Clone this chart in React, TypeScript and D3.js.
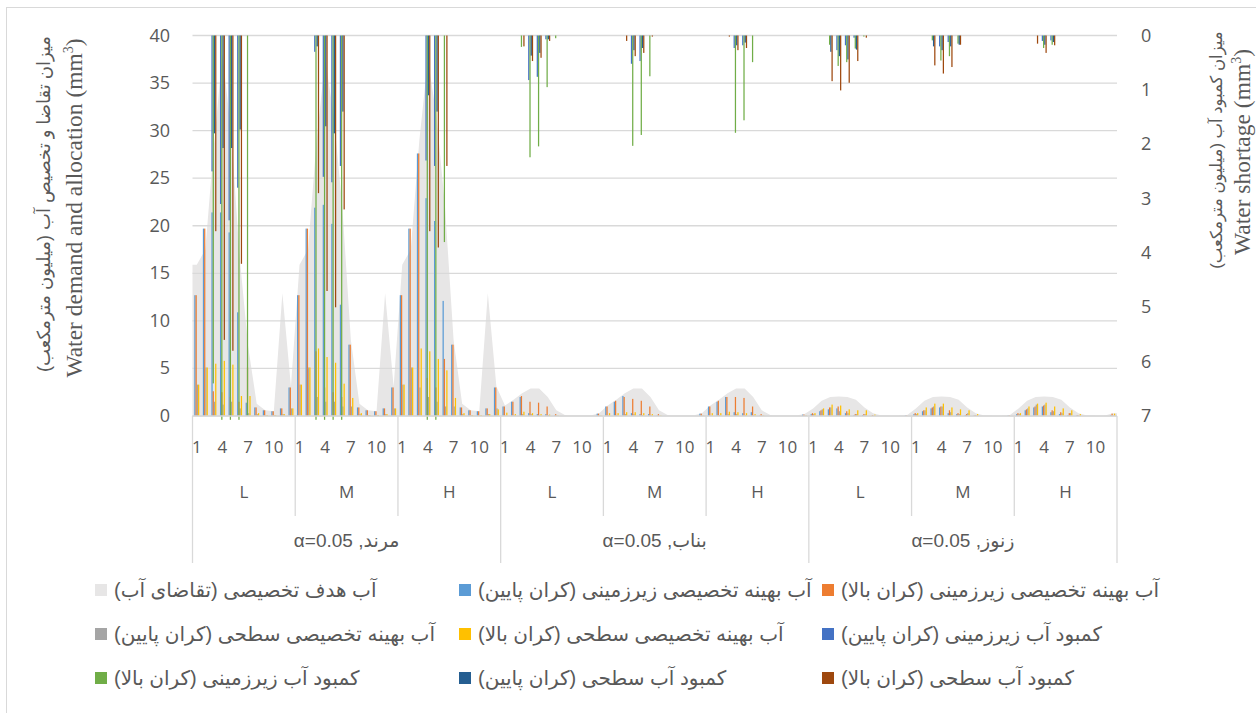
import React from 'react';
import * as d3 from 'd3';

const months = ['1', '2', '3', '4', '5', '6', '7', '8', '9', '10', '11', '12'];
const levels = ['L', 'M', 'H'];
const regions = ['مرند', 'بناب', 'زنوز'];
const alphaText = 'α=0.05';
const leftTicks = [0, 5, 10, 15, 20, 25, 30, 35, 40];
const rightTicks = [0, 1, 2, 3, 4, 5, 6, 7];

// demand (gray area), rows: Marand L/M/H, Bonab L/M/H, Zonouz L/M/H
const demand = [
  15.9, 17.5, 28.5, 38.0, 30.0, 16.8, 7.3, 1.3, 0.6, 0.5, 12.9, 3.1,
  15.9, 17.5, 29.0, 37.5, 31.5, 22.0, 8.0, 1.3, 0.6, 0.5, 12.9, 3.1,
  15.9, 17.5, 29.0, 37.5, 31.5, 22.0, 8.0, 1.3, 0.6, 0.5, 12.9, 3.1,
  1.1, 1.7, 2.4, 2.9, 2.9, 2.0, 0.6, 0.1, 0.05, 0.05, 0.05, 0.3,
  1.1, 1.7, 2.4, 2.9, 2.9, 2.0, 0.6, 0.1, 0.05, 0.05, 0.05, 0.3,
  1.1, 1.7, 2.4, 2.9, 2.9, 2.0, 0.6, 0.1, 0.05, 0.05, 0.05, 0.2,
  0.8, 1.6, 2.0, 2.05, 2.0, 1.7, 0.9, 0.3, 0.05, 0.02, 0.02, 0.1,
  0.8, 1.6, 2.0, 2.05, 2.0, 1.7, 0.9, 0.3, 0.05, 0.02, 0.02, 0.1,
  0.8, 1.6, 2.0, 2.05, 2.0, 1.7, 0.9, 0.3, 0.05, 0.02, 0.02, 0.3,
];

const gwAllocLow = [
  12.7, 19.7, 21.4, 21.4, 19.3, 10.9, 1.4, 0.9, 0.6, 0.5, 0.8, 3.0,
  12.7, 19.7, 21.9, 22.2, 20.2, 11.7, 7.5, 0.9, 0.6, 0.5, 0.8, 3.0,
  12.7, 19.7, 27.6, 22.9, 20.5, 12.1, 7.5, 0.9, 0.6, 0.5, 0.8, 3.0,
  1.0, 1.5, 2.0, 0.3, 0.2, 0.2, 0.05, 0, 0, 0, 0, 0.25,
  1.0, 1.5, 2.1, 0.3, 0.2, 0.2, 0.05, 0, 0, 0, 0, 0.25,
  1.0, 1.5, 2.0, 0.4, 0.3, 0.4, 0.05, 0, 0, 0, 0, 0.15,
  0.2, 0.5, 0.7, 0.8, 0.3, 0.1, 0.1, 0, 0, 0, 0, 0.05,
  0.2, 0.5, 0.8, 0.9, 0.3, 0.2, 0.1, 0.05, 0, 0, 0, 0.05,
  0.2, 0.6, 0.9, 1.0, 0.4, 0.2, 0.1, 0.05, 0, 0, 0, 0.1,
];

const gwAllocUp = [
  12.7, 19.7, 2.6, 2.5, 2.0, 1.5, 5.1, 0.9, 0.6, 0.5, 0.8, 3.0,
  12.7, 19.7, 6.8, 3.0, 2.5, 2.0, 7.5, 0.9, 0.6, 0.5, 0.8, 3.0,
  12.7, 19.7, 27.6, 4.0, 3.0, 6.0, 7.5, 0.9, 0.6, 0.5, 0.8, 3.0,
  1.0, 1.5, 2.1, 1.5, 1.4, 1.0, 0.2, 0, 0, 0, 0, 0.25,
  1.0, 1.6, 2.0, 1.8, 1.6, 1.0, 0.2, 0, 0, 0, 0, 0.25,
  1.0, 1.6, 2.0, 2.0, 1.9, 1.0, 0.2, 0, 0, 0, 0, 0.15,
  0.3, 0.6, 0.9, 1.0, 0.5, 0.2, 0.2, 0.1, 0, 0, 0, 0.05,
  0.3, 0.6, 0.9, 1.0, 0.6, 0.3, 0.2, 0.1, 0, 0, 0, 0.05,
  0.3, 0.7, 1.0, 1.1, 0.6, 0.4, 0.3, 0.1, 0, 0, 0, 0.25,
];

const swAllocLow = [
  3.3, 5.1, 1.5, 1.2, 1.5, 0.8, 0.3, 0.2, 0.1, 0.1, 0.2, 0.8,
  3.3, 5.1, 2.0, 1.5, 1.5, 1.0, 1.0, 0.2, 0.1, 0.1, 0.2, 0.8,
  3.3, 5.1, 3.0, 2.0, 1.5, 1.0, 1.0, 0.2, 0.1, 0.1, 0.2, 0.8,
  0.05, 0.1, 0.2, 0.2, 0.1, 0.1, 0.05, 0, 0, 0, 0, 0.05,
  0.05, 0.1, 0.2, 0.2, 0.1, 0.1, 0.05, 0, 0, 0, 0, 0.05,
  0.05, 0.1, 0.2, 0.2, 0.1, 0.1, 0.05, 0, 0, 0, 0, 0.05,
  0.2, 0.7, 0.9, 0.5, 0.3, 0.2, 0.2, 0.05, 0, 0, 0, 0,
  0.2, 0.6, 1.0, 1.0, 0.4, 0.2, 0.3, 0.05, 0, 0, 0, 0,
  0.2, 0.8, 1.2, 1.2, 0.5, 0.3, 0.3, 0.05, 0, 0, 0, 0.05,
];

const swAllocUp = [
  3.3, 5.1, 5.5, 5.8, 5.4, 2.1, 2.1, 0.3, 0.1, 0.1, 0.2, 0.8,
  3.3, 5.1, 7.1, 6.2, 5.6, 3.4, 1.9, 0.3, 0.1, 0.1, 0.2, 0.8,
  3.3, 5.1, 7.1, 6.8, 6.0, 4.8, 1.9, 0.3, 0.1, 0.1, 0.2, 0.7,
  0.35, 0.2, 0.45, 0.3, 0.2, 0.15, 0.05, 0, 0, 0, 0, 0.05,
  0.3, 0.3, 0.4, 0.4, 0.3, 0.2, 0.05, 0, 0, 0, 0, 0.05,
  0.3, 0.3, 0.45, 0.4, 0.3, 0.2, 0.05, 0, 0, 0, 0, 0.05,
  0.3, 0.8, 1.2, 1.1, 0.7, 0.6, 0.6, 0.15, 0, 0, 0, 0,
  0.3, 0.9, 1.3, 1.3, 0.9, 0.7, 0.6, 0.2, 0, 0, 0, 0,
  0.3, 1.0, 1.3, 1.4, 1.0, 0.8, 0.6, 0.2, 0, 0, 0, 0.25,
];

// shortages, right axis (reversed, 0 at top)
const gwShortLow = [
  0, 0, 2.5, 3.1, 3.4, 2.8, 0, 0, 0, 0, 0, 0,
  0, 0, 0.3, 2.6, 2.7, 2.4, 0, 0, 0, 0, 0, 0,
  0, 0, 0, 2.3, 2.4, 0, 0, 0, 0, 0, 0, 0,
  0, 0, 0, 0.82, 0.76, 0.07, 0, 0, 0, 0, 0, 0,
  0, 0, 0, 0.52, 0.47, 0, 0, 0, 0, 0, 0, 0,
  0, 0, 0, 0.23, 0.18, 0, 0, 0, 0, 0, 0, 0,
  0, 0, 0, 0.27, 0.18, 0.04, 0, 0, 0, 0, 0, 0,
  0, 0, 0, 0.2, 0.12, 0, 0, 0, 0, 0, 0, 0,
  0, 0, 0, 0.1, 0.09, 0, 0, 0, 0, 0, 0, 0,
];

const gwShortUp = [
  0, 0, 6.4, 7.5, 7.5, 7.5, 7.0, 0, 0, 0, 0, 0,
  0, 0, 7.5, 7.5, 7.5, 7.5, 0, 0, 0, 0, 0, 0,
  0, 0, 0, 7.5, 7.5, 3.8, 0, 0, 0, 0, 0, 0,
  0, 0, 0.21, 2.24, 2.04, 0.95, 0.05, 0, 0, 0, 0, 0,
  0, 0, 0, 2.03, 1.83, 0.75, 0, 0, 0, 0, 0, 0,
  0, 0, 0, 1.79, 1.56, 0.49, 0, 0, 0, 0, 0, 0,
  0, 0, 0.17, 0.56, 0.49, 0.24, 0.02, 0, 0, 0, 0, 0,
  0, 0, 0.09, 0.46, 0.38, 0.15, 0, 0, 0, 0, 0, 0,
  0, 0, 0, 0.23, 0.17, 0, 0, 0, 0, 0, 0, 0,
];

const swShortLow = [
  0, 0, 1.8, 2.07, 2.07, 1.73, 0, 0, 0, 0, 0, 0,
  0, 0, 0.2, 1.67, 1.8, 1.4, 0, 0, 0, 0, 0, 0,
  0, 0, 0, 1.1, 1.4, 0, 0, 0, 0, 0, 0, 0,
  0, 0, 0, 0.37, 0.32, 0.07, 0, 0, 0, 0, 0, 0,
  0, 0, 0, 0.27, 0.23, 0, 0, 0, 0, 0, 0, 0,
  0, 0, 0, 0.18, 0.13, 0, 0, 0, 0, 0, 0, 0,
  0, 0, 0.3, 0.38, 0.44, 0.26, 0, 0, 0, 0, 0, 0,
  0, 0, 0.2, 0.27, 0.2, 0.17, 0, 0, 0, 0, 0, 0,
  0, 0, 0, 0.17, 0.12, 0, 0, 0, 0, 0, 0, 0,
];

const swShortUp = [
  0, 0, 3.6, 5.6, 5.8, 4.2, 0, 0, 0, 0, 0, 0,
  0, 0, 2.9, 4.7, 5.0, 3.2, 0, 0, 0, 0, 0, 0,
  0, 0, 0, 3.6, 3.9, 2.4, 0, 0, 0, 0, 0, 0,
  0, 0, 0.2, 0.47, 0.41, 0.1, 0, 0, 0, 0, 0, 0,
  0, 0, 0.1, 0.38, 0.32, 0.02, 0, 0, 0, 0, 0, 0,
  0, 0, 0.02, 0.27, 0.23, 0, 0, 0, 0, 0, 0, 0,
  0, 0, 0.84, 1.01, 0.87, 0.47, 0.04, 0, 0, 0, 0, 0,
  0, 0, 0.55, 0.7, 0.58, 0.17, 0, 0, 0, 0, 0, 0,
  0, 0, 0.15, 0.32, 0.18, 0, 0, 0, 0, 0, 0, 0,
];

const seriesNames = [
  'آب هدف تخصیصی (تقاضای آب)',
  'آب بهینه تخصیصی زیرزمینی (کران پایین)',
  'آب بهینه تخصیصی زیرزمینی (کران بالا)',
  'آب بهینه تخصیصی سطحی (کران پایین)',
  'آب بهینه تخصیصی سطحی (کران بالا)',
  'کمبود آب زیرزمینی (کران پایین)',
  'کمبود آب زیرزمینی (کران بالا)',
  'کمبود آب سطحی (کران پایین)',
  'کمبود آب سطحی (کران بالا)',
];
const seriesColors = ['#e7e6e6', '#5b9bd5', '#ed7d31', '#a5a5a5', '#ffc000', '#4472c4', '#70ad47', '#255e91', '#9e480e'];

const leftTitleFa = 'میزان تقاضا و تخصیص آب (میلیون مترمکعب)';
const leftTitleEn = 'Water demand and allocation (mm';
const rightTitleFa = 'میزان کمبود آب (میلیون مترمکعب)';
const rightTitleEn = 'Water shortage (mm';

const X0 = 192.5, X1 = 1117, YT = 35.5, YB = 416;
const textColor = '#595959';
const gridColor = '#d9d9d9';
const faFont = "'Liberation Sans', 'DejaVu Sans', sans-serif";
const numFont = "'Open Sans', 'Liberation Sans', sans-serif";
const enFont = "'Liberation Serif', serif";

export default function App() {
  const cats = regions.flatMap((_, ri) => levels.flatMap((_, li) => months.map(m => `${ri}-${li}-${m}`)));
  const x = d3.scaleBand<string>().domain(cats).range([X0, X1]);
  const slot = d3.scaleBand<string>().domain(['0', '1', '2', '3']).range([0, x.bandwidth()]).paddingOuter(1.45);
  const yL = d3.scaleLinear().domain([0, 40]).range([YB, YT]);
  const yR = d3.scaleLinear().domain([0, 7]).range([YT, YB]);
  const cx = (i: number) => (x(cats[i]) as number) + x.bandwidth() / 2;

  const areaPts: [number, number][] = [[X0, demand[0]], ...demand.map((v, i) => [cx(i), v] as [number, number]), [X1, demand[demand.length - 1]]];
  const areaPath = d3.area<[number, number]>().x(d => d[0]).y0(YB).y1(d => yL(d[1]))(areaPts) || '';

  const primary = [gwAllocLow, gwAllocUp, swAllocLow, swAllocUp];
  const secondary = [gwShortLow, gwShortUp, swShortLow, swShortUp];

  const groupEdges = d3.range(10).map(g => (g < 9 ? (x(cats[g * 12]) as number) : X1));

  const legendItems = seriesNames.map((name, i) => ({ name, color: seriesColors[i], row: Math.floor(i / 3), col: i % 3 }));
  const legendCols = [95, 459, 822];
  const legendRows = [590, 634, 678];

  return (
    <svg width={1256} height={713} style={{ position: 'fixed', left: 0, top: 0, background: '#fff' }}>
      <rect x={6.5} y={7.5} width={1262} height={720} fill="#fff" stroke={gridColor} />

      <path d={areaPath} fill={seriesColors[0]} />

      {leftTicks.map(t => (
        <line key={t} x1={X0} x2={X1} y1={yL(t)} y2={yL(t)} stroke={gridColor} strokeWidth={1.3} />
      ))}

      {primary.map((arr, s) =>
        arr.map((v, i) =>
          v > 0 ? (
            <rect key={`p${s}-${i}`} x={(x(cats[i]) as number) + (slot(String(s)) as number)} width={slot.bandwidth()}
              y={yL(v)} height={YB - yL(v)} fill={seriesColors[s + 1]} />
          ) : null
        )
      )}
      {secondary.map((arr, s) =>
        arr.map((v, i) =>
          v > 0 ? (
            <rect key={`s${s}-${i}`} x={(x(cats[i]) as number) + (slot(String(s)) as number)} width={slot.bandwidth()}
              y={YT} height={yR(Math.min(v, 7.07)) - YT} fill={seriesColors[s + 5]} />
          ) : null
        )
      )}

      {/* category axis */}
      <line x1={X0} x2={X1} y1={YB} y2={YB} stroke={gridColor} strokeWidth={1.3} />
      {groupEdges.map((gx, g) => (
        <line key={`e${g}`} x1={gx} x2={gx} y1={YB} y2={g % 3 === 0 ? 563 : 516} stroke={gridColor} strokeWidth={1.3} />
      ))}
      {cats.map((c, i) =>
        i % 3 === 0 ? (
          <text key={`m${i}`} x={cx(i)} y={453} textAnchor="middle" fontFamily={numFont} fontSize={17} fill={textColor}>
            {months[i % 12]}
          </text>
        ) : null
      )}
      {d3.range(9).map(g => (
        <text key={`l${g}`} x={(groupEdges[g] + groupEdges[g + 1]) / 2} y={498} textAnchor="middle" fontFamily={numFont} fontSize={17} fill={textColor}>
          {levels[g % 3]}
        </text>
      ))}
      {regions.map((r, ri) => (
        <text key={`r${ri}`} x={(groupEdges[ri * 3] + groupEdges[ri * 3 + 3]) / 2} y={547} textAnchor="middle" direction="rtl"
          fontFamily={faFont} fontSize={19} fill={textColor}>
          {`${r}, ${alphaText}`}
        </text>
      ))}

      {/* value axes */}
      {leftTicks.map(t => (
        <text key={`lt${t}`} x={170} y={yL(t) + 6} textAnchor="end" fontFamily={numFont} fontSize={18} fill={textColor}>{t}</text>
      ))}
      {rightTicks.map(t => (
        <text key={`rt${t}`} x={1141} y={yR(t) + 6} textAnchor="start" fontFamily={numFont} fontSize={18} fill={textColor}>{t}</text>
      ))}

      <text transform="translate(50,204) rotate(-90)" textAnchor="middle" direction="rtl" fontFamily={faFont} fontSize={18} fill={textColor}>
        {leftTitleFa}
      </text>
      <text transform="translate(82,208) rotate(-90)" textAnchor="middle" fontFamily={enFont} fontSize={23.5} fill={textColor}>
        {leftTitleEn}<tspan dy={-9} fontSize={14}>3</tspan><tspan dy={9}>)</tspan>
      </text>
      <text transform="translate(1222,150) rotate(-90)" textAnchor="middle" direction="rtl" fontFamily={faFont} fontSize={16.5} fill={textColor}>
        {rightTitleFa}
      </text>
      <text transform="translate(1250,152) rotate(-90)" textAnchor="middle" fontFamily={enFont} fontSize={23.5} fill={textColor}>
        {rightTitleEn}<tspan dy={-9} fontSize={14}>3</tspan><tspan dy={9}>)</tspan>
      </text>

      {/* legend */}
      {legendItems.map((it, i) => (
        <g key={`lg${i}`}>
          <rect x={legendCols[it.col]} y={legendRows[it.row] - 6} width={12} height={12} fill={it.color} />
          <text x={legendCols[it.col] + 19} y={legendRows[it.row] + 7} textAnchor="end" direction="rtl"
            fontFamily={faFont} fontSize={20} fill={textColor}>
            {it.name}
          </text>
        </g>
      ))}
    </svg>
  );
}
